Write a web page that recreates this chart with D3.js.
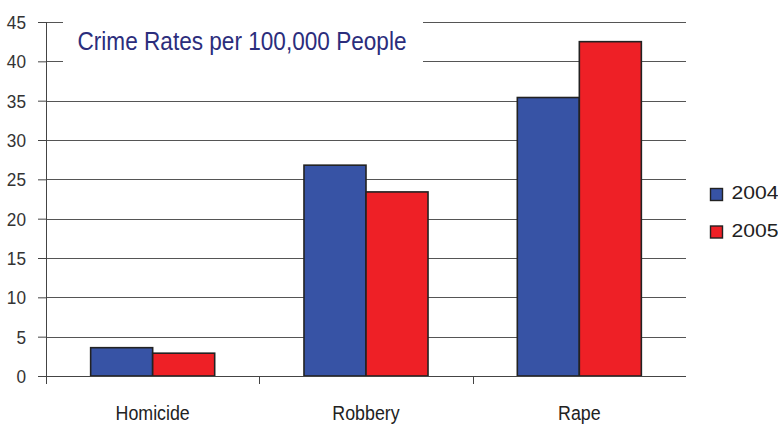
<!DOCTYPE html>
<html>
<head>
<meta charset="utf-8">
<script src="https://cdn.jsdelivr.net/npm/d3@7"></script>
<style>
  html, body { margin: 0; padding: 0; background: #fff; }
  svg { display: block; font-family: "Liberation Sans", Arial, sans-serif; }
</style>
</head>
<body>
<svg id="chart" width="778" height="426"></svg>
<script>
// Crime rates per 100,000 people, by offence and year
const categories = ["Homicide", "Robbery", "Rape"];
const years = ["2004", "2005"];
const rates2004 = [3.6, 26.8, 35.4];
const rates2005 = [2.9, 23.4, 42.5];
const yTicks = [0, 5, 10, 15, 20, 25, 30, 35, 40, 45];
const colors = ["#3753a5", "#ee2026"];
const titleText = "Crime Rates per 100,000 People";

const svg = d3.select("#chart");
const plotLeft = 46, plotRight = 686, plotTop = 22, plotBottom = 376;

const x = d3.scaleBand().domain(categories).range([plotLeft, plotRight]).paddingInner(0).paddingOuter(0);
const inner = d3.scaleBand().domain(years).range([0, x.bandwidth()]).paddingInner(0).paddingOuter(0.72);
const y = d3.scaleLinear().domain([0, 45]).range([plotBottom, plotTop]);

// left tick marks and labels
const yAxis = svg.append("g").attr("transform", `translate(${plotLeft},0)`)
  .call(d3.axisLeft(y).tickValues(yTicks).tickSize(8).tickPadding(12).tickFormat(d3.format("d")));
yAxis.select(".domain").remove();
yAxis.selectAll(".tick line").attr("stroke", "#444");
yAxis.selectAll(".tick text")
  .attr("font-size", 18.5).attr("fill", "#333")
  .attr("x", -20 / 0.93).attr("dy", "0.36em")
  .attr("transform", "scale(0.93,1)");

// horizontal gridlines
svg.append("g").selectAll("line").data(yTicks.filter(d => d > 0)).join("line")
  .attr("x1", plotLeft).attr("x2", plotRight)
  .attr("y1", d => Math.round(y(d)) + 0.5).attr("y2", d => Math.round(y(d)) + 0.5)
  .attr("stroke", "#555").attr("stroke-width", 1);

// title panel sits over the upper gridlines
svg.append("rect").attr("x", 63).attr("y", 14).attr("width", 360).attr("height", 62).attr("fill", "#fff");
svg.append("text").attr("x", 77.5).attr("y", 49.5).text(titleText)
  .attr("font-size", 25).attr("fill", "#2b2d7c")
  .attr("textLength", 329).attr("lengthAdjust", "spacingAndGlyphs");

// value axis line
svg.append("line").attr("x1", plotLeft + 0.5).attr("x2", plotLeft + 0.5)
  .attr("y1", plotTop).attr("y2", plotBottom + 8).attr("stroke", "#444");

// bars
const rows = categories.map((c, i) => ({ cat: c, values: [rates2004[i], rates2005[i]] }));
const groups = svg.append("g").selectAll("g").data(rows).join("g")
  .attr("transform", d => `translate(${x(d.cat)},0)`);
groups.selectAll("rect").data(d => d.values.map((v, j) => ({ year: years[j], v, j }))).join("rect")
  .attr("x", d => inner(d.year))
  .attr("width", inner.bandwidth())
  .attr("y", d => y(d.v))
  .attr("height", d => y(0) - y(d.v))
  .attr("fill", d => colors[d.j])
  .attr("stroke", "#222").attr("stroke-width", 1.6);

// category axis
const xAxis = svg.append("g").attr("transform", `translate(0,${plotBottom + 0.5})`)
  .call(d3.axisBottom(x).tickSize(0).tickPadding(0));
xAxis.select(".domain").attr("stroke", "#444").attr("d", `M${plotLeft},0H${plotRight}`);
xAxis.selectAll(".tick text")
  .attr("font-size", 20).attr("fill", "#222")
  .attr("y", 43.5).attr("dy", null)
  .attr("transform", "scale(0.89,1)");
svg.append("g").selectAll("line").data(categories.slice(1)).join("line")
  .attr("x1", d => Math.round(x(d)) + 0.5).attr("x2", d => Math.round(x(d)) + 0.5)
  .attr("y1", plotBottom).attr("y2", plotBottom + 8).attr("stroke", "#444");

// legend
const legend = svg.append("g").selectAll("g").data(years).join("g")
  .attr("transform", (d, i) => `translate(710.5,${188.5 + i * 37.5})`);
legend.append("rect").attr("width", 12).attr("height", 12)
  .attr("fill", (d, i) => colors[i]).attr("stroke", "#222").attr("stroke-width", 1.4);
legend.append("text").attr("x", 21).attr("y", 10.5).text(d => d)
  .attr("font-size", 18.5).attr("fill", "#222")
  .attr("textLength", 47).attr("lengthAdjust", "spacingAndGlyphs");
</script>
</body>
</html>
